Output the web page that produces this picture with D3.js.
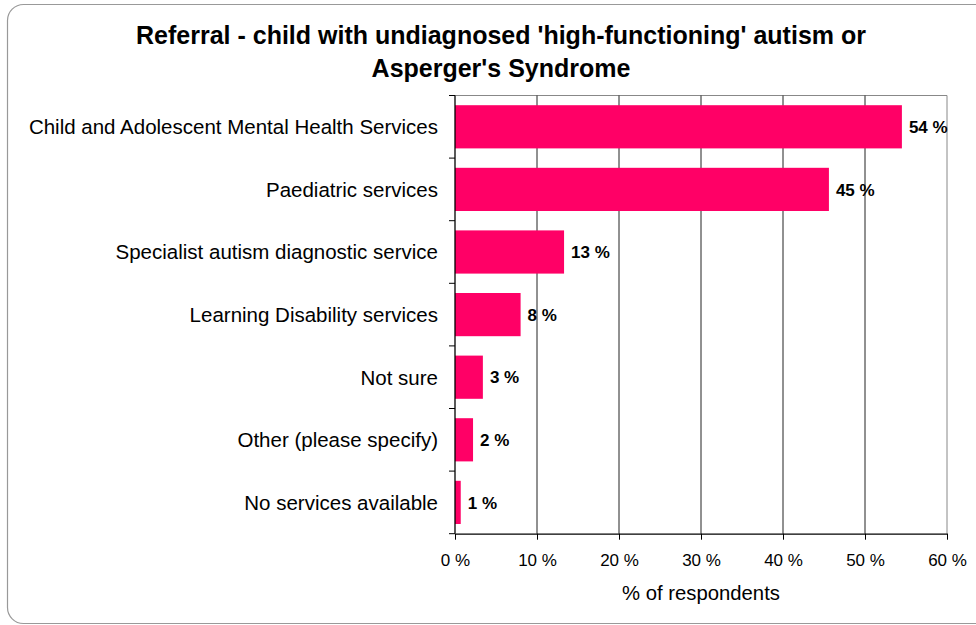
<!DOCTYPE html>
<html><head><meta charset="utf-8">
<script src="https://cdn.jsdelivr.net/npm/d3@7"></script>
<style>body{margin:0;background:#fff}svg{display:block;font-family:"Liberation Sans",Arial,sans-serif}</style>
</head><body>
<svg id="c" width="976" height="625"></svg>
<script>
const categories = ["Child and Adolescent Mental Health Services","Paediatric services","Specialist autism diagnostic service","Learning Disability services","Not sure","Other (please specify)","No services available"];
const values = [54.5, 45.6, 13.3, 8.0, 3.4, 2.2, 0.7];
const valueLabels = ["54 %","45 %","13 %","8 %","3 %","2 %","1 %"];
const xTicks = [0,10,20,30,40,50,60];
const titleLines = ["Referral - child with undiagnosed 'high-functioning' autism or","Asperger's Syndrome"];
const xTitle = "% of respondents";

const svg = d3.select("#c");
svg.append("rect").attr("x",7.5).attr("y",4.5).attr("width",985).attr("height",619).attr("rx",16)
  .attr("fill","#fff").attr("stroke","#999").attr("stroke-width",1.2);

const L=455, R=947, T=95.5, B=533.7;
const x = d3.scaleLinear().domain([0,60]).range([L,R]);
const y = d3.scaleBand().domain(categories).range([T,B]).paddingInner(0.31).paddingOuter(0.155);

svg.append("line").attr("x1",L).attr("x2",R).attr("y1",T).attr("y2",T).attr("stroke","#888");
svg.append("line").attr("x1",R).attr("x2",R).attr("y1",T).attr("y2",B).attr("stroke","#888");
svg.append("g").selectAll("line").data(xTicks.slice(1,-1)).join("line")
  .attr("x1",d=>x(d)).attr("x2",d=>x(d)).attr("y1",T).attr("y2",B).attr("stroke","#222").attr("stroke-width",1);

svg.append("g").selectAll("rect").data(values).join("rect")
  .attr("x",L).attr("y",(d,i)=>y(categories[i])).attr("width",d=>x(d)-L).attr("height",y.bandwidth())
  .attr("fill","#FF0066");

svg.append("g").selectAll("text").data(values).join("text")
  .attr("x",d=>x(d)+7).attr("y",(d,i)=>y(categories[i])+y.bandwidth()/2).attr("dy","0.36em")
  .attr("font-size",17).attr("font-weight","bold").attr("fill","#000").text((d,i)=>valueLabels[i]);

const xa = svg.append("g").attr("transform",`translate(0,${B})`)
  .call(d3.axisBottom(x).tickValues(xTicks).tickFormat(d=>d+" %").tickSize(6).tickSizeOuter(0));
xa.select(".domain").attr("stroke","#000").attr("stroke-width",1.3);
xa.selectAll(".tick line").attr("stroke","#000");
xa.selectAll("text").attr("font-size",17).attr("font-family","Liberation Sans, Arial, sans-serif").attr("fill","#000").attr("dy","1.4em");

const yEdges = d3.range(categories.length+1).map(i=>T+i*(B-T)/categories.length);
svg.append("line").attr("x1",L).attr("x2",L).attr("y1",T).attr("y2",B).attr("stroke","#000").attr("stroke-width",1.3);
svg.append("g").selectAll("line").data(yEdges).join("line")
  .attr("x1",L-6).attr("x2",L).attr("y1",d=>d).attr("y2",d=>d).attr("stroke","#000");
svg.append("g").selectAll("text").data(categories).join("text")
  .attr("x",438).attr("y",d=>y(d)+y.bandwidth()/2).attr("dy","0.36em").attr("text-anchor","end")
  .attr("font-size",20.5).attr("fill","#000").text(d=>d);

svg.append("g").selectAll("text").data(titleLines).join("text")
  .attr("x",501).attr("y",(d,i)=>35+i*33).attr("dy","0.36em").attr("text-anchor","middle")
  .attr("font-size",25).attr("font-weight","bold").attr("fill","#000").text(d=>d);

svg.append("text").attr("x",(L+R)/2).attr("y",593).attr("dy","0.36em").attr("text-anchor","middle")
  .attr("font-size",20.3).attr("fill","#000").text(xTitle);
</script>
</body></html>
